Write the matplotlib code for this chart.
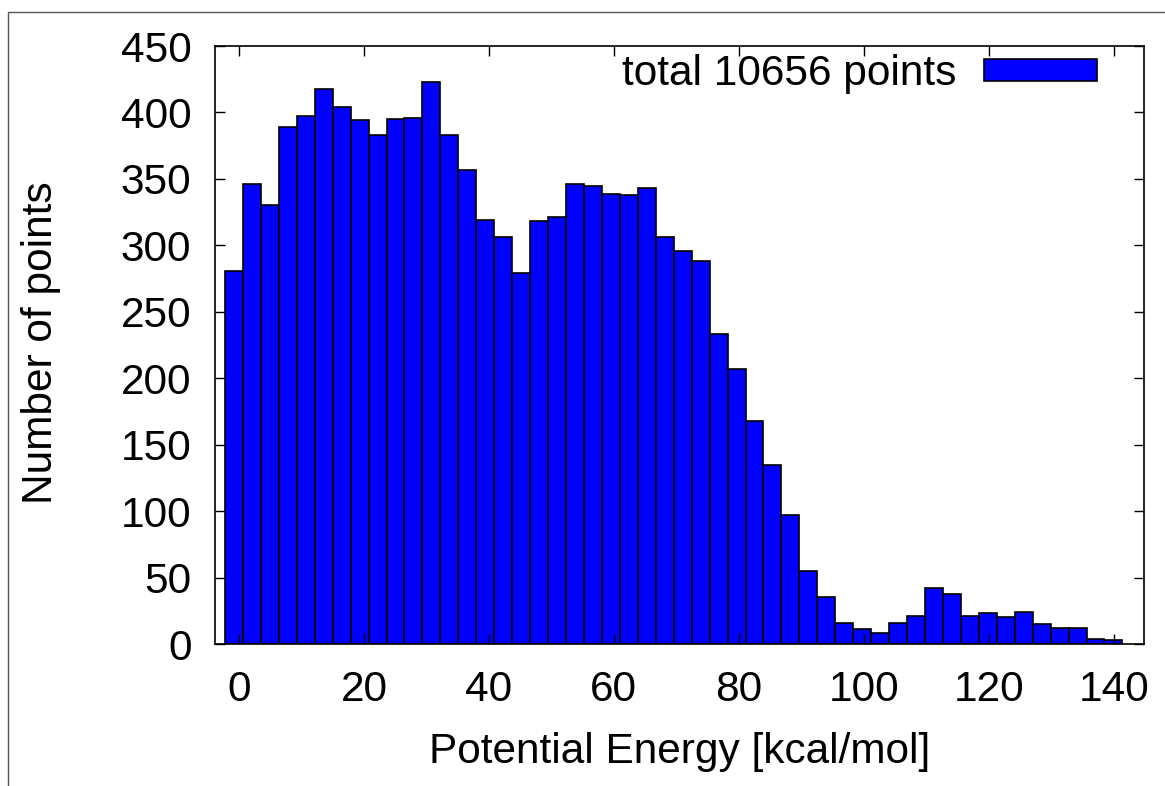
#!/usr/bin/env python3
"""Histogram of potential energies (gnuplot-like look)."""
import numpy as np
import matplotlib
matplotlib.use("Agg")
import matplotlib.pyplot as plt
from matplotlib.patches import Rectangle

# histogram: 50 bins between e_min and e_max
e_min = -2.24
e_max = 141.4
counts = [281, 346, 330, 389, 397, 418, 404, 394, 383, 395, 396, 423, 383, 357, 319, 306, 279,
          318, 321, 346, 345, 339, 338, 343, 306, 296, 288, 233, 207, 168, 135, 97, 55,
          35, 16, 11, 8, 16, 21, 42, 38, 21, 23, 20, 24, 15, 12, 12, 4, 3]
x_ticks = [0, 20, 40, 60, 80, 100, 120, 140]
y_ticks = [0, 50, 100, 150, 200, 250, 300, 350, 400, 450]

plt.rcParams['font.family'] = ['Liberation Sans', 'DejaVu Sans']
FS = 30.5

W, H = 1165, 786
fig = plt.figure(figsize=(W / 100, H / 100), dpi=100)
ax = fig.add_axes([215 / W, 1 - 644 / H, (1144 - 215) / W, (644 - 46) / H])

counts = np.array(counts)
edges = np.linspace(e_min, e_max, len(counts) + 1)
ax.bar(edges[:-1], counts, width=np.diff(edges), align='edge',
       color='#0000ff', edgecolor='black', linewidth=1.2,
       label="total {} points".format(counts.sum()))

ax.set_xlim(-3.84, 144.85)
ax.set_ylim(0, 450)
ax.set_xticks(x_ticks)
ax.set_yticks(y_ticks)
ax.tick_params(direction='in', length=7.2, width=1.0, labelsize=FS,
               top=True, right=True)
ax.tick_params(axis='y', pad=17)
ax.tick_params(axis='x', pad=18.5)
for s in ax.spines.values():
    s.set_linewidth(1.2)

fig.text(0.5 * (215 + 1144) / W, 1 - 763 / H, "Potential Energy [kcal/mol]",
         ha='center', va='baseline', fontsize=FS)
fig.text(41 / W, 1 - 343 / H, "Number of points", rotation=90,
         ha='center', va='center', fontsize=FS)

ax.legend(loc='upper right', bbox_to_anchor=(1097 / W, 1 - 54 / H),
          bbox_transform=fig.transFigure, frameon=False, fontsize=FS,
          markerfirst=False, borderpad=0, borderaxespad=0,
          handlelength=2.67, handleheight=0.445, handletextpad=0.66)

# partial outer frame
fig.add_artist(Rectangle((8 / W, -0.1), 1.2, 1 - 12 / H + 0.1,
                         transform=fig.transFigure, fill=False,
                         edgecolor='#555555', linewidth=1.0))

fig.savefig("out.png", dpi=100)
